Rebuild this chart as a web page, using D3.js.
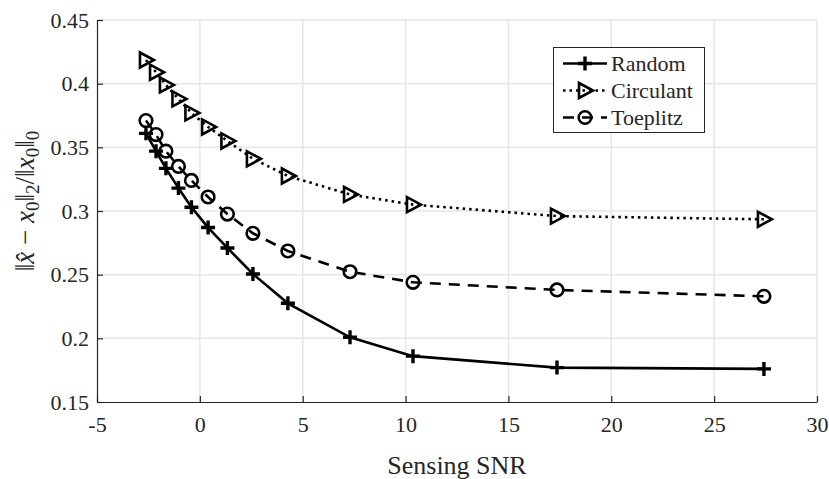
<!DOCTYPE html>
<html>
<head>
<meta charset="utf-8">
<script src="https://cdn.jsdelivr.net/npm/d3@7"></script>
</head>
<body>
<script>
// sensing SNR values (shared by every curve)
var snr = [-2.62, -2.13, -1.65, -1.04, -0.41, 0.40, 1.34, 2.58, 4.28, 7.30, 10.36, 17.36, 27.42];
var random = [0.361, 0.347, 0.3335, 0.318, 0.303, 0.287, 0.271, 0.2505, 0.2275, 0.2008, 0.186, 0.177, 0.176];
var circulant = [0.4186, 0.409, 0.399, 0.388, 0.377, 0.366, 0.355, 0.341, 0.3275, 0.313, 0.305, 0.296, 0.2935];
var toeplitz = [0.371, 0.360, 0.347, 0.335, 0.324, 0.311, 0.2976, 0.2825, 0.2686, 0.2523, 0.244, 0.238, 0.233];
var seriesNames = ["Random", "Circulant", "Toeplitz"];
var xTicks = [-5, 0, 5, 10, 15, 20, 25, 30];
var yTicks = [0.15, 0.2, 0.25, 0.3, 0.35, 0.4, 0.45];

var width = 829, height = 479;
var mLeft = 97, mRight = 817, mTop = 20, mBottom = 402;
var fontName = "Liberation Serif";
var ink = "#262626";

d3.select("body").style("margin", "0px");
var svg = d3.select("body").append("svg").attr("width", width).attr("height", height)
    .attr("font-family", fontName).style("display", "block");

var x = d3.scaleLinear().domain([-5, 30]).range([mLeft, mRight]);
var y = d3.scaleLinear().domain([0.15, 0.45]).range([mBottom, mTop]);

// grid
svg.append("g").selectAll("line").data(xTicks.slice(1)).enter().append("line")
    .attr("x1", function (d) { return x(d); }).attr("x2", function (d) { return x(d); })
    .attr("y1", mTop).attr("y2", mBottom)
    .attr("stroke", "#e6e6e6").attr("stroke-width", 1.5);
svg.append("g").selectAll("line").data(yTicks.slice(1)).enter().append("line")
    .attr("y1", function (d) { return y(d); }).attr("y2", function (d) { return y(d); })
    .attr("x1", mLeft).attr("x2", mRight)
    .attr("stroke", "#e6e6e6").attr("stroke-width", 1.5);

// axes (ticks pointing inward)
var xAxis = svg.append("g").attr("transform", "translate(0," + mBottom + ")")
    .call(d3.axisBottom(x).tickValues(xTicks).tickSizeInner(-6).tickSizeOuter(0).tickPadding(14)
        .tickFormat(function (d) { return String(d); }));
var yAxis = svg.append("g").attr("transform", "translate(" + mLeft + ",0)")
    .call(d3.axisLeft(y).tickValues(yTicks).tickSizeInner(-6).tickSizeOuter(0).tickPadding(8)
        .tickFormat(function (d) { return String(+d.toFixed(2)); }));
[xAxis, yAxis].forEach(function (a) {
    a.attr("font-family", fontName).attr("font-size", 22);
    a.select(".domain").attr("stroke", ink).attr("stroke-width", 1.2);
    a.selectAll(".tick line").attr("stroke", ink).attr("stroke-width", 1.2);
    a.selectAll(".tick text").attr("fill", ink).attr("font-family", fontName).attr("font-size", 22);
});
xAxis.selectAll(".tick text").attr("dy", "0.71em");

// axis labels
svg.append("text").attr("x", (mLeft + mRight) / 2).attr("y", 474)
    .attr("text-anchor", "middle").attr("font-size", 26).attr("fill", ink)
    .attr("font-family", fontName)
    .text("Sensing SNR");

var yl = svg.append("text").attr("transform", "translate(34,201) rotate(-90)")
    .attr("text-anchor", "middle").attr("font-size", 27).attr("fill", ink)
    .attr("font-family", fontName);
yl.append("tspan").text("\u2016");
yl.append("tspan").attr("font-style", "italic").text("x\u0302");
yl.append("tspan").text(" \u2212 ");
yl.append("tspan").attr("font-style", "italic").text("x");
yl.append("tspan").attr("font-size", 19).attr("dy", 5).text("0");
yl.append("tspan").attr("dy", -5).text("\u2016");
yl.append("tspan").attr("font-size", 19).attr("dy", 5).text("2");
yl.append("tspan").attr("dy", -5).text("/\u2016");
yl.append("tspan").attr("font-style", "italic").text("x");
yl.append("tspan").attr("font-size", 19).attr("dy", 5).text("0");
yl.append("tspan").attr("dy", -5).text("\u2016");
yl.append("tspan").attr("font-size", 19).attr("dy", 5).text("0");

// series
var series = [
    { name: seriesNames[0], values: random, dash: null, marker: "plus" },
    { name: seriesNames[1], values: circulant, dash: "2.5,4", marker: "tri" },
    { name: seriesNames[2], values: toeplitz, dash: "11,8", marker: "circle" }
];

var line = d3.line().x(function (d) { return x(d[0]); }).y(function (d) { return y(d[1]); });

function drawMarker(g, type, cx, cy) {
    if (type === "plus") {
        g.append("path").attr("d", "M" + (cx - 7) + "," + cy + "H" + (cx + 7) + "M" + cx + "," + (cy - 7) + "V" + (cy + 7))
            .attr("stroke", "#000").attr("stroke-width", 3.4).attr("fill", "none");
    } else if (type === "tri") {
        g.append("path").attr("d", "M" + (cx - 6) + "," + (cy - 7.5) + "L" + (cx + 8) + "," + cy + "L" + (cx - 6) + "," + (cy + 7.5) + "Z")
            .attr("stroke", "#000").attr("stroke-width", 2.6).attr("fill", "none").attr("stroke-linejoin", "miter");
    } else {
        g.append("circle").attr("cx", cx).attr("cy", cy).attr("r", 6.3)
            .attr("stroke", "#000").attr("stroke-width", 2.6).attr("fill", "none");
    }
}

series.forEach(function (s) {
    var pts = snr.map(function (v, i) { return [v, s.values[i]]; });
    svg.append("path").datum(pts).attr("d", line)
        .attr("fill", "none").attr("stroke", "#000").attr("stroke-width", 2.6)
        .attr("stroke-dasharray", s.dash);
    var g = svg.append("g");
    pts.forEach(function (p) { drawMarker(g, s.marker, x(p[0]), y(p[1])); });
});

// legend
var lg = svg.append("g");
lg.append("rect").attr("x", 553.5).attr("y", 47.5).attr("width", 151).attr("height", 85)
    .attr("fill", "#fff").attr("stroke", ink).attr("stroke-width", 1);
series.forEach(function (s, i) {
    var ly = 63.5 + i * 27;
    lg.append("line").attr("x1", 563).attr("x2", 607).attr("y1", ly).attr("y2", ly)
        .attr("stroke", "#000").attr("stroke-width", 2.6).attr("stroke-dasharray", s.dash);
    drawMarker(lg, s.marker, 585, ly);
    lg.append("text").attr("x", 611).attr("y", ly).attr("dy", "0.35em")
        .attr("font-size", 22).attr("fill", ink).attr("font-family", fontName).text(s.name);
});
</script>
</body>
</html>
